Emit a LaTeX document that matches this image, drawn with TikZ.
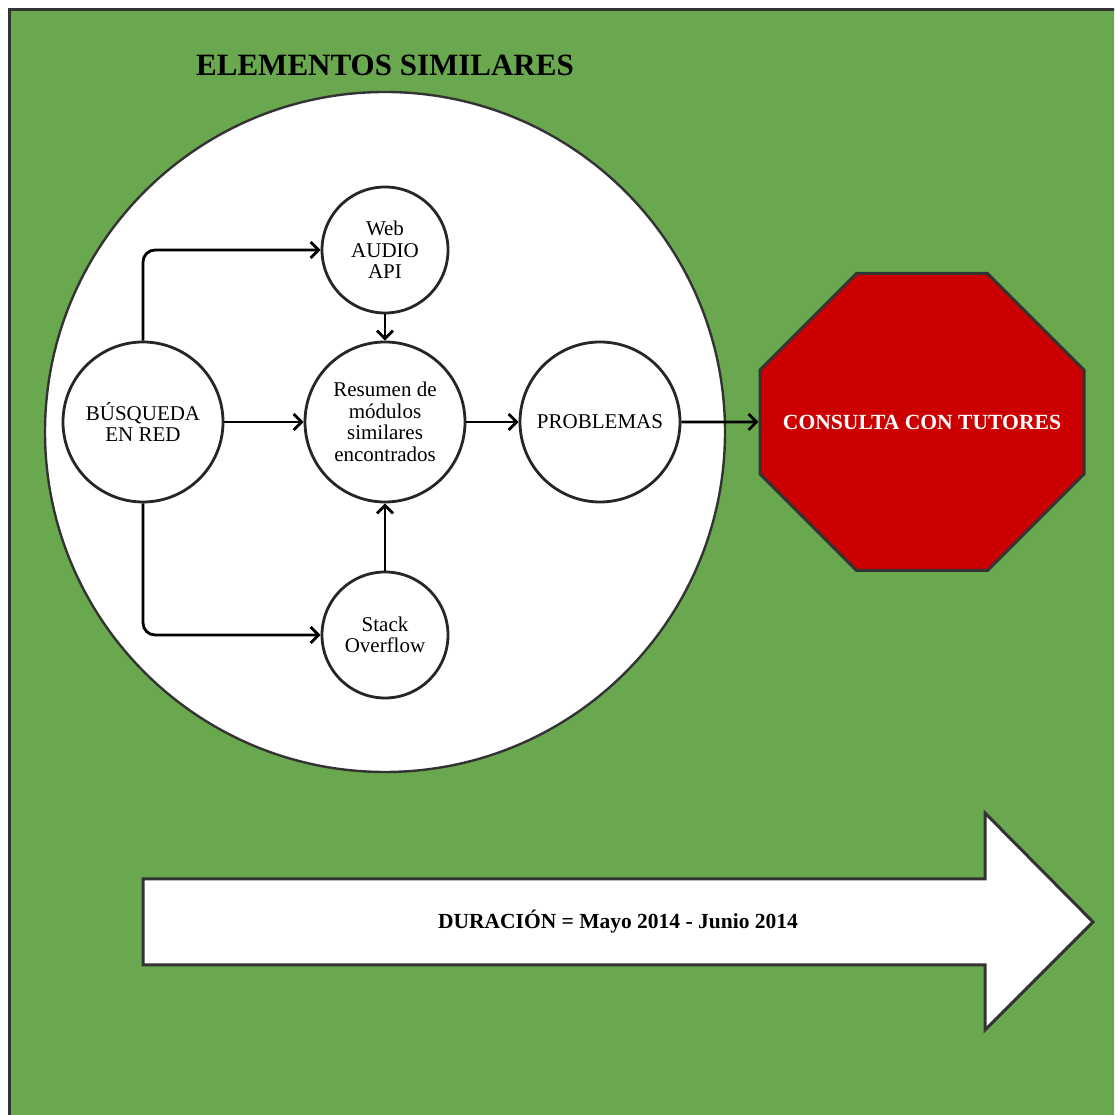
\documentclass[tikz,border=0pt]{standalone}
\usepackage{fontspec}
\setmainfont{Liberation Serif}
\usetikzlibrary{positioning,shapes.misc,arrows.meta}

\definecolor{verde}{RGB}{106,168,79}
\definecolor{rojo}{RGB}{204,0,0}
\definecolor{borde}{RGB}{51,51,51}

\begin{document}
\begin{tikzpicture}[x=1pt,y=1pt,on grid,
    >={Straight Barb[length=8pt,width=16pt]},
    nodo/.style={circle,draw=black!85,line width=2.8pt,fill=white,align=center,
      inner sep=0pt,font=\fontsize{21}{21.5}\selectfont},
    grande/.style={nodo,minimum size=160pt},
    chico/.style={nodo,minimum size=126pt},
    flecha/.style={->,line width=2.8pt,rounded corners=12pt}]
    \clip (0,0) rectangle (1114,1115);
    \fill[white] (0,0) rectangle (1114,1115);
    \draw[fill=verde,draw=borde,line width=3pt] (9.5,1105.5) rectangle (1140,-30);
    % circulo de elementos similares
    \node[circle,draw=borde,line width=2.4pt,fill=white,minimum size=680pt] (elementos) at (385,683) {};
    \node[font=\fontsize{31}{33}\selectfont\bfseries] (titulo) at (385,1050) {ELEMENTOS SIMILARES};
    \node[grande] (resumen) at (385,693) {Resumen de\\módulos\\similares\\encontrados};
    \node[chico] (web) [above=172pt of resumen] {Web\\AUDIO\\API};
    \node[chico] (stack) [below=213pt of resumen] {Stack\\Overflow};
    \node[grande] (busq) [left=242pt of resumen] {BÚSQUEDA\\EN RED};
    \node[grande] (prob) [right=215pt of resumen] {PROBLEMAS};
    \node[chamfered rectangle,chamfered rectangle xsep=97pt,chamfered rectangle ysep=86pt,
      minimum width=324pt,minimum height=297pt,fill=rojo,draw=borde,line width=3pt,
      text=white,font=\fontsize{21.6}{23}\selectfont\bfseries] (consulta) [right=322pt of prob] {CONSULTA CON TUTORES};
    \path[flecha]
      (busq) edge (resumen)
             edge[to path={|- (\tikztotarget) \tikztonodes}] (web)
             edge[to path={|- (\tikztotarget) \tikztonodes}] (stack)
      (web) edge (resumen)
      (stack) edge (resumen)
      (resumen) edge (prob)
      (prob) edge (consulta);
    % flecha de duracion
    \draw[fill=white,draw=borde,line width=3pt] (143,236) -- (985,236) -- (985,302) -- (1093,193)
      -- (985,85) -- (985,150) -- (143,150) -- cycle;
    \node[font=\fontsize{21.5}{23}\selectfont\bfseries] (duracion) at (618,193) {DURACIÓN = Mayo 2014 - Junio 2014};
\end{tikzpicture}
\end{document}
